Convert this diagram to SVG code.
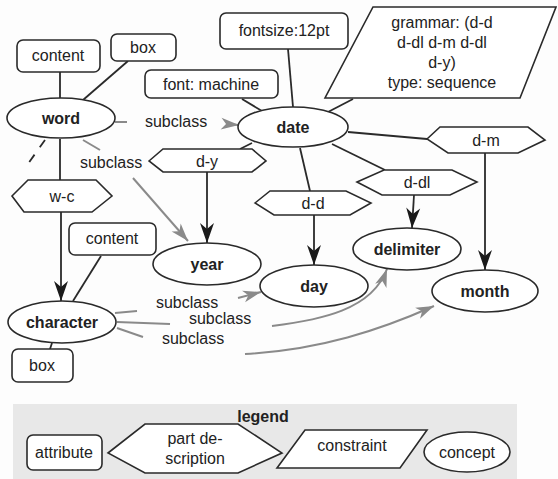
<svg xmlns="http://www.w3.org/2000/svg" width="558" height="479" viewBox="0 0 558 479">
<style>
text{font-family:"Liberation Sans",Arial,sans-serif;font-size:16px;fill:#222;text-anchor:middle}
.b{font-weight:bold}
.n{fill:#fff;stroke:#2a2a2a;stroke-width:1.6}
.e{stroke:#2a2a2a;stroke-width:1.8;fill:none}
.g{stroke:#8a8a8a;stroke-width:2;fill:none}
.ab{marker-end:url(#ab)}
.ag{marker-end:url(#ag)}
</style>
<defs>
<marker id="ab" markerUnits="userSpaceOnUse" markerWidth="22" markerHeight="16" refX="20" refY="7" orient="auto" overflow="visible">
<path d="M0,0 L20,7 L0,14 L6,7 z" fill="#1a1a1a"/>
</marker>
<marker id="ag" markerUnits="userSpaceOnUse" markerWidth="20" markerHeight="14" refX="18" refY="6" orient="auto" overflow="visible">
<path d="M0,0 L18,6 L0,12 L5,6 z" fill="#8a8a8a"/>
</marker>
</defs>
<rect x="0" y="0" width="558" height="479" fill="#fdfdfd"/>

<g id="connectors">
<line class="e" x1="60" y1="72" x2="60" y2="98"/>
<line class="e" x1="128" y1="61" x2="83" y2="100"/>
<line class="e" x1="60" y1="139" x2="60" y2="180"/>
<line class="e" x1="45" y1="140" x2="25" y2="168" stroke-dasharray="9 9"/>
<line class="e" x1="288" y1="49" x2="293" y2="107"/>
<line class="e" x1="242" y1="99" x2="262" y2="111"/>
<line class="e" x1="353" y1="99" x2="328" y2="112"/>
<line class="e" x1="348" y1="132" x2="427" y2="139"/>
<line class="e" x1="332" y1="144" x2="385" y2="170"/>
<line class="e" x1="300" y1="148" x2="310" y2="191"/>
<line class="e" x1="252" y1="143" x2="240" y2="149"/>
<line class="e" x1="101" y1="256" x2="73" y2="301"/>
<line class="e" x1="52" y1="343" x2="50" y2="349"/>
<line class="e ab" x1="207" y1="172" x2="207" y2="243"/>
<line class="e ab" x1="61" y1="212" x2="61" y2="301"/>
<line class="e ab" x1="314" y1="215" x2="314" y2="265"/>
<line class="e ab" x1="414" y1="195" x2="412" y2="228"/>
<line class="e ab" x1="485" y1="153" x2="485" y2="270"/>
<line class="g" x1="115" y1="122" x2="127" y2="122"/>
<line class="g ag" x1="226" y1="124" x2="239" y2="125"/>
<line class="g" x1="83" y1="140" x2="100" y2="150"/>
<line class="g ag" x1="133" y1="178" x2="188" y2="241"/>
<line class="g" x1="115" y1="313" x2="137" y2="311"/>
<line class="g" x1="117" y1="322" x2="170" y2="324"/>
<line class="g" x1="117" y1="328" x2="143" y2="337"/>
<line class="g ag" x1="238" y1="298" x2="261" y2="292"/>
<path class="g ag" d="M272,326 C320,320 372,310 387,269"/>
<path class="g ag" d="M245,354 C320,350 380,330 434,306"/>
<text x="176" y="127">subclass</text>
<text x="111" y="168">subclass</text>
<text x="187" y="308">subclass</text>
<text x="220" y="324">subclass</text>
<text x="193" y="344">subclass</text>
</g>

<g id="content1"><rect class="n" x="17" y="40" width="83" height="32" rx="6"/><text x="58" y="61">content</text></g>
<g id="box1"><rect class="n" x="111" y="34" width="65" height="27" rx="6"/><text x="143" y="53">box</text></g>
<g id="word"><ellipse class="n" cx="61" cy="118" rx="54" ry="20"/><text class="b" x="61" y="124">word</text></g>
<g id="fontmachine"><rect class="n" x="145" y="70" width="133" height="28" rx="6"/><text x="211" y="90">font: machine</text></g>
<g id="fontsize"><rect class="n" x="220" y="13" width="128" height="36" rx="6"/><text x="284" y="36">fontsize:12pt</text></g>
<g id="grammar"><polygon class="n" points="373,7 556,7 520,98 325,98"/>
<text x="442" y="28">grammar: (d-d</text><text x="442" y="48">d-dl d-m d-dl</text><text x="442" y="68">d-y)</text><text x="442" y="88">type: sequence</text></g>
<g id="date"><ellipse class="n" cx="293" cy="127" rx="55" ry="20"/><text class="b" x="293" y="133">date</text></g>
<g id="d-y"><polygon class="n" points="149,161 163,149 252,149 266,161 252,172 163,172"/><text x="207" y="167">d-y</text></g>
<g id="d-m"><polygon class="n" points="427,139 440,127 528,127 545,140 518,153 448,153"/><text x="486" y="146">d-m</text></g>
<g id="d-dl"><polygon class="n" points="357,182 384,170 452,170 477,182 450,195 382,195"/><text x="417" y="188">d-dl</text></g>
<g id="d-d"><polygon class="n" points="255,203 270,191 346,191 371,203 350,215 274,215"/><text x="313" y="209">d-d</text></g>
<g id="w-c"><polygon class="n" points="12,196 28,180 96,180 112,196 92,212 24,212"/><text x="62" y="202">w-c</text></g>
<g id="year"><ellipse class="n" cx="207" cy="264" rx="54" ry="21"/><text class="b" x="207" y="270">year</text></g>
<g id="day"><ellipse class="n" cx="314" cy="286" rx="54" ry="21"/><text class="b" x="314" y="292">day</text></g>
<g id="delimiter"><ellipse class="n" cx="407" cy="249" rx="54" ry="21"/><text class="b" x="407" y="255">delimiter</text></g>
<g id="month"><ellipse class="n" cx="485" cy="291" rx="53" ry="21"/><text class="b" x="485" y="297">month</text></g>
<g id="content2"><rect class="n" x="69" y="223" width="87" height="32" rx="6"/><text x="112" y="244">content</text></g>
<g id="character"><ellipse class="n" cx="62" cy="322" rx="54" ry="21"/><text class="b" x="62" y="328">character</text></g>
<g id="box2"><rect class="n" x="12" y="349" width="61" height="33" rx="6"/><text x="42" y="371">box</text></g>

<g id="legend">
<rect x="13" y="404" width="504" height="75" fill="#e8e8e8"/>
<text class="b" x="263" y="422">legend</text>
<rect class="n" x="27" y="435" width="75" height="35" rx="6"/><text x="64" y="458">attribute</text>
<polygon class="n" points="108,453 145,424 238,424 282,453 238,473 145,473"/>
<text x="195" y="444">part de-</text><text x="195" y="464">scription</text>
<polygon class="n" points="305,430 427,430 400,468 277,468"/><text x="352" y="451">constraint</text>
<ellipse class="n" cx="467" cy="452" rx="43" ry="20"/><text x="467" y="458">concept</text>
</g>
</svg>
